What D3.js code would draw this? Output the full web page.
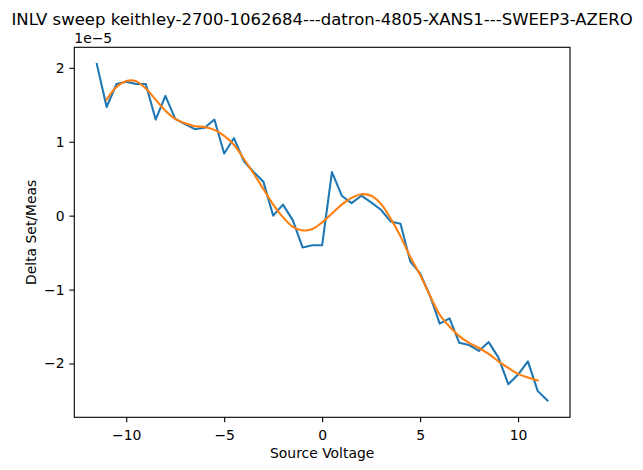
<!DOCTYPE html>
<html>
<head>
<meta charset="utf-8">
<script src="https://cdn.jsdelivr.net/npm/d3@7"></script>
<style>
  body { margin: 0; background: #fff; }
  text { font-family: "DejaVu Sans", sans-serif; fill: #000; }
</style>
</head>
<body>
<div id="chart"></div>
<script>
// Source voltage for each measured point
const voltage = [-11.5, -11, -10.5, -10, -9.5, -9, -8.5, -8, -7.5, -7, -6.5, -6, -5.5, -5,
  -4.5, -4, -3.5, -3, -2.5, -2, -1.5, -1, -0.5, 0, 0.5, 1, 1.5, 2, 2.5, 3, 3.5, 4, 4.5,
  5, 5.5, 6, 6.5, 7, 7.5, 8, 8.5, 9, 9.5, 10, 10.5, 11, 11.5];

// Delta set/meas, in units of 1e-5
const delta = [2.05, 1.47, 1.78, 1.81, 1.78, 1.78, 1.30, 1.62, 1.31, 1.24, 1.17, 1.19, 1.30, 0.84,
  1.05, 0.74, 0.59, 0.46, 0.00, 0.15, -0.06, -0.43, -0.40, -0.40, 0.59, 0.27, 0.17, 0.27, 0.18,
  0.08, -0.08, -0.11, -0.62, -0.78, -1.08, -1.46, -1.39, -1.72, -1.75, -1.83, -1.71, -1.92,
  -2.28, -2.15, -1.97, -2.37, -2.50];

// Smoothed fit (same units)
const fitVoltage = [-11, -10.5, -10, -9.5, -9, -8.5, -8, -7.5, -7, -6.5, -6, -5.5, -5, -4.5, -4,
  -3.5, -3, -2.5, -2, -1.5, -1, -0.5, 0, 0.5, 1, 1.5, 2, 2.5, 3, 3.5, 4, 4.5, 5, 5.5, 6, 6.5,
  7, 7.5, 8, 8.5, 9, 9.5, 10, 10.5, 11];
const fitDelta = [1.57, 1.74, 1.82, 1.82, 1.72, 1.57, 1.42, 1.31, 1.25, 1.21, 1.20, 1.16, 1.08,
  0.96, 0.77, 0.57, 0.36, 0.15, -0.02, -0.15, -0.20, -0.18, -0.09, 0.03, 0.15, 0.24, 0.29, 0.27,
  0.16, -0.04, -0.28, -0.56, -0.80, -1.08, -1.34, -1.50, -1.63, -1.72, -1.79, -1.87, -1.97,
  -2.06, -2.14, -2.19, -2.23];

const xTicks = [-10, -5, 0, 5, 10];
const yTicks = [-2, -1, 0, 1, 2];

const width = 643;
const height = 470;
const plot = { left: 74.3, right: 570, top: 47.3, bottom: 417.3 };

// matplotlib style 5% margins
const xPad = (d3.max(voltage) - d3.min(voltage)) * 0.05;
const yPad = (d3.max(delta) - d3.min(delta)) * 0.05;

const x = d3.scaleLinear()
    .domain([d3.min(voltage) - xPad, d3.max(voltage) + xPad])
    .range([plot.left, plot.right]);
const y = d3.scaleLinear()
    .domain([d3.min(delta) - yPad, d3.max(delta) + yPad])
    .range([plot.bottom, plot.top]);

const svg = d3.select("#chart")
  .append("svg")
    .attr("width", width)
    .attr("height", height);

// Axes
const fmt = d3.format("d");
const xAxis = svg.append("g")
    .attr("transform", `translate(0,${plot.bottom})`)
    .call(d3.axisBottom(x).tickValues(xTicks).tickFormat(fmt).tickSize(4.9).tickPadding(4.9));
const yAxis = svg.append("g")
    .attr("transform", `translate(${plot.left},0)`)
    .call(d3.axisLeft(y).tickValues(yTicks).tickFormat(fmt).tickSize(4.9).tickPadding(4.9));

[xAxis, yAxis].forEach((g) => {
  g.select(".domain").remove();
  g.selectAll("line").attr("stroke", "#000").attr("stroke-width", 1.1);
  g.selectAll("text").style("font-size", "13.9px").attr("font-family", null);
});
xAxis.selectAll("text").attr("dy", "0.9em");

// Lines
const line = d3.line()
    .x((d) => x(d[0]))
    .y((d) => y(d[1]));

svg.append("path")
    .datum(d3.zip(voltage, delta))
    .attr("fill", "none")
    .attr("stroke", "#1f77b4")
    .attr("stroke-width", 2.08)
    .attr("stroke-linejoin", "round")
    .attr("stroke-linecap", "square")
    .attr("d", line);

svg.append("path")
    .datum(d3.zip(fitVoltage, fitDelta))
    .attr("fill", "none")
    .attr("stroke", "#ff7f0e")
    .attr("stroke-width", 2.08)
    .attr("stroke-linecap", "square")
    .attr("d", line.curve(d3.curveCatmullRom));

// Frame
svg.append("rect")
    .attr("x", plot.left)
    .attr("y", plot.top)
    .attr("width", plot.right - plot.left)
    .attr("height", plot.bottom - plot.top)
    .attr("fill", "none")
    .attr("stroke", "#000")
    .attr("stroke-width", 1.1);

// Labels
const cx = (plot.left + plot.right) / 2;
svg.append("text")
    .attr("x", cx)
    .attr("y", 25)
    .attr("text-anchor", "middle")
    .style("font-size", "16.5px")
    .text("INLV sweep keithley-2700-1062684---datron-4805-XANS1---SWEEP3-AZERO");

svg.append("text")
    .attr("x", plot.left)
    .attr("y", 42.5)
    .style("font-size", "13.9px")
    .text("1e\u22125");

svg.append("text")
    .attr("x", cx)
    .attr("y", 458)
    .attr("text-anchor", "middle")
    .style("font-size", "13.9px")
    .text("Source Voltage");

svg.append("text")
    .attr("transform", `translate(36,${(plot.top + plot.bottom) / 2}) rotate(-90)`)
    .attr("text-anchor", "middle")
    .style("font-size", "13.9px")
    .text("Delta Set/Meas");
</script>
</body>
</html>
